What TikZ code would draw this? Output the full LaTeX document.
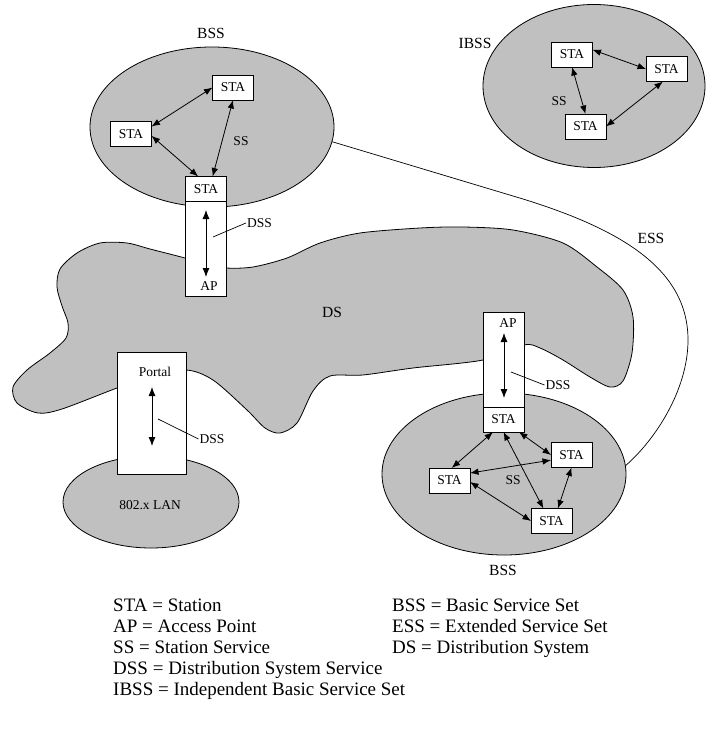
\documentclass[tikz,border=0pt]{standalone}
\usepackage{fontspec}
\setmainfont{Liberation Serif}
\usetikzlibrary{arrows.meta,shapes.geometric,calc}
\definecolor{setgray}{RGB}{192,192,192}
\newcommand{\wlansmall}{\fontsize{13.5}{16}\selectfont}
\newcommand{\wlanbig}{\fontsize{15.5}{18}\selectfont}
\newcommand{\wlankey}{\fontsize{19}{21.5}\selectfont}
\tikzset{
  wlan/set/.style={draw, ellipse, fill=setgray, line width=0.8pt, inner sep=0pt},
  wlan/ds/.style={draw, fill=setgray, line width=0.8pt},
  wlan/sta/.style={draw, fill=white, line width=0.8pt, minimum width=41pt, minimum height=25pt, inner sep=0pt, outer sep=0pt, font=\wlansmall},
  wlan/apbox/.style={draw, fill=white, line width=0.8pt, minimum width=41pt, inner sep=0pt, outer sep=0pt},
  wlan/lbl/.style={inner sep=1pt, font=\wlansmall},
  wlan/biglbl/.style={inner sep=1pt, font=\wlanbig},
  wlan/ss/.style={{Latex[length=8.5pt,width=6.5pt]}-{Latex[length=8.5pt,width=6.5pt]}, line width=0.8pt},
  wlan/dss/.style={{Latex[length=9pt,width=7pt]}-{Latex[length=9pt,width=7pt]}, line width=0.8pt},
  wlan/lead/.style={line width=0.7pt},
  wlan/key/.style={anchor=base west, inner sep=0pt, font=\wlankey}
}
\begin{document}
\begin{tikzpicture}[x=1pt,y=-1pt]
\useasboundingbox (0,0) rectangle (718,743);

\draw[wlan/ds] plot[smooth cycle, tension=0.5] coordinates {
  (185,258) (150,249) (127,243) (100,243) (77,253) (60,269) (57,287) (62,306) (68,323) (66,338)
  (50,353) (27,370) (13,387) (17,403) (38,413) (62,409) (117,388) (150,377) (186,370) (213,380)
  (247,410) (265,428) (280,433) (297,423) (313,391) (330,376) (363,375) (413,368) (483,360) (524,345)
  (540,348) (563,360) (590,377) (610,387) (623,381) (632,353) (633,317) (623,290) (597,267) (563,243)
  (513,230) (463,227) (420,228) (360,233) (320,243) (287,258) (253,267) (226,268) (205,264)};
\node[wlan/biglbl] (dslbl) at (332,312) {DS};

\node[wlan/set, minimum width=176pt, minimum height=92pt] (lan) at (151,502) {};
\node[wlan/lbl] (lanlbl) at (150,505) {802.x LAN};

\node[wlan/set, minimum width=244pt, minimum height=160pt] (bssA) at (212,127) {};
\node[wlan/set, minimum width=244pt, minimum height=162pt] (bssB) at (504,474) {};
\node[wlan/set, minimum width=222pt, minimum height=163pt] (ibss) at (594,86) {};
\node[wlan/biglbl] (bssAlbl) at (211,33) {BSS};
\node[wlan/biglbl] (bssBlbl) at (503,570) {BSS};
\node[wlan/biglbl] (ibsslbl) at (475,43) {IBSS};

\draw[wlan/lead] (bssA.-7) -- (523,199) .. controls (623,230) and (688,270) .. (688,340)
  .. controls (688,390) and (655,440) .. (bssB.4);
\node[wlan/biglbl] (esslbl) at (651,238) {ESS};

\node[wlan/sta] (staA0) at (206,189) {STA};
\node[wlan/apbox, minimum height=95pt, anchor=north] (apA) at (staA0.south) {};
\node[wlan/sta] (staA1) at (131,134) {STA};
\node[wlan/sta] (staA2) at (233,87.5) {STA};
\node[wlan/lbl] (apAlbl) at (209,286) {AP};
\node[wlan/lbl] (ssA) at (241,141) {SS};
\node[wlan/lbl] (dssA) at (259.5,223) {DSS};
\draw[wlan/ss] (staA1.20) -- (staA2.west);
\draw[wlan/ss] (staA1.-5) -- (staA0.122);
\draw[wlan/ss] (staA2.south) -- (staA0.62);
\coordinate (apAhi) at (206,210);
\coordinate (apAlo) at (206,277);
\coordinate (apAlead) at (213,237);
\draw[wlan/dss] (apAhi) -- (apAlo);
\draw[wlan/lead] (apAlead) -- (dssA.west);

\node[wlan/sta] (staB0) at (503.5,419.5) {STA};
\node[wlan/apbox, minimum height=95pt, anchor=south] (apB) at (staB0.north) {};
\node[wlan/sta] (staB1) at (449.5,480.5) {STA};
\node[wlan/sta] (staB2) at (571.5,455) {STA};
\node[wlan/sta] (staB3) at (551.5,521) {STA};
\node[wlan/lbl] (apBlbl) at (508,323) {AP};
\node[wlan/lbl] (ssB) at (513,480) {SS};
\node[wlan/lbl] (dssB) at (558,385) {DSS};
\draw[wlan/ss] (staB0.-130) -- (staB1.80);
\draw[wlan/ss] (staB0.-39) -- (staB2.west);
\draw[wlan/ss] (staB0.south) -- (staB3.123);
\draw[wlan/ss] (staB1.20) -- (staB2.-166);
\draw[wlan/ss] (staB1.-4) -- (staB3.west);
\draw[wlan/ss] (staB2.south) -- (staB3.63);
\coordinate (apBhi) at (504,333);
\coordinate (apBlo) at (504,398);
\coordinate (apBlead) at (511,372);
\draw[wlan/dss] (apBhi) -- (apBlo);
\draw[wlan/lead] (apBlead) -- (dssB.west);

\node[wlan/sta] (staC1) at (572,54.5) {STA};
\node[wlan/sta] (staC2) at (666.5,69) {STA};
\node[wlan/sta] (staC3) at (585.5,126.5) {STA};
\node[wlan/lbl] (ssC) at (559,101) {SS};
\draw[wlan/ss] (staC1.13) -- (staC2.west);
\draw[wlan/ss] (staC1.south) -- (staC3.north);
\draw[wlan/ss] (staC2.-106) -- (staC3.east);

\node[wlan/apbox, minimum width=69pt, minimum height=122pt] (portal) at (151.5,413) {};
\node[wlan/lbl] (portallbl) at (155,372) {Portal};
\node[wlan/lbl] (dssC) at (212,439) {DSS};
\coordinate (portalhi) at (152,387);
\coordinate (portallo) at (152,446);
\coordinate (portallead) at (158,419);
\draw[wlan/dss] (portalhi) -- (portallo);
\draw[wlan/lead] (portallead) -- (dssC.west);

\foreach \k/\yy/\txt in {sta/611/STA = Station, ap/632/AP = Access Point, ss/653/SS = Station Service,
  dss/674/DSS = Distribution System Service, ibss/695/IBSS = Independent Basic Service Set}
  \node[wlan/key] (key\k) at (113,\yy) {\txt};
\foreach \k/\yy/\txt in {bss/611/BSS = Basic Service Set, ess/632/ESS = Extended Service Set,
  ds/653/DS = Distribution System}
  \node[wlan/key] (key\k) at (392,\yy) {\txt};

\end{tikzpicture}
\end{document}
